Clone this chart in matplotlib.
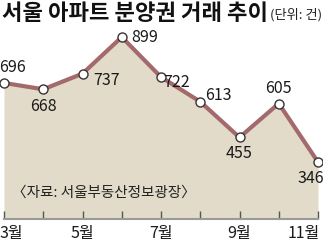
import matplotlib
matplotlib.use("Agg")
import matplotlib.pyplot as plt
import matplotlib.transforms as mtransforms

# data
months = [3, 4, 5, 6, 7, 8, 9, 10, 11]
values = [696, 668, 737, 899, 722, 613, 455, 605, 346]
tick_months = [3, 5, 7, 9, 11]
tick_labels = ['3월', '5월', '7월', '9월', '11월']
# label offsets in pixels (dx, dy) for each point
offsets = [(9, 15), (0, -17), (24, -7), (23, 0), (16, -5), (18, 6), (0, -16), (0, 15), (-7, -16)]

plt.rcParams['font.family'] = ['Liberation Sans Narrow', 'Noto Sans CJK KR', 'DejaVu Sans']

fig = plt.figure(figsize=(3.23, 2.42), dpi=100)
ax = fig.add_axes([4 / 323, 23 / 242, 314 / 323, 1 - 23 / 242])

line_col = '#a46a6b'
fill_col = '#e2dbca'

ax.fill_between(months, values, 0, color=fill_col, lw=0)
ax.plot(months, values, color=line_col, lw=3, solid_joinstyle='miter',
        marker='o', ms=6.5, mfc='white', mec='#3a3333', mew=1, clip_on=False, zorder=3)

for m, v, (dx, dy) in zip(months, values, offsets):
    ax.annotate(str(v), (m, v), xytext=(dx, dy), textcoords='offset pixels',
                ha='center', va='center', fontsize=11.5, color='#1a1a1a')

ax.set_xlim(3, 11)
ax.set_ylim(94, 1063)
ax.set_yticks([])
ax.set_xticks(months)
ax.set_xticklabels(['' if m not in tick_months else tick_labels[tick_months.index(m)] for m in months])
ax.tick_params(axis='x', direction='in', length=6, width=1, color='#555555',
               labelsize=11.5, pad=4, labelcolor='#1a1a1a')
lbls = ax.get_xticklabels()
lbls[0].set_ha('left')
lbls[0].set_transform(lbls[0].get_transform()
                      + mtransforms.ScaledTranslation(-4 / 100, 0, fig.dpi_scale_trans))
lbls[-1].set_ha('right')
lbls[-1].set_transform(lbls[-1].get_transform()
                       + mtransforms.ScaledTranslation(2 / 100, 0, fig.dpi_scale_trans))
for s in ['top', 'left', 'right']:
    ax.spines[s].set_visible(False)
ax.spines['bottom'].set_color('#9a9a9a')
ax.spines['bottom'].set_linewidth(1.5)

ax.text(8 / 314, 0.119, '〈자료: 서울부동산정보광장〉', transform=ax.transAxes,
        fontsize=10.5, color='#222222', ha='left', va='center',
        family=['Noto Sans CJK KR'])

fig.text(2 / 323, 1 - 13 / 242, '서울 아파트 분양권 거래 추이', fontsize=16, fontweight='bold',
         ha='left', va='center', family=['Noto Sans CJK KR'], color='#111111')
fig.text(322 / 323, 1 - 15 / 242, '(단위: 건)', fontsize=9.5,
         ha='right', va='center', family=['Noto Sans CJK KR'], color='#222222')

fig.savefig('out.png', dpi=100)
